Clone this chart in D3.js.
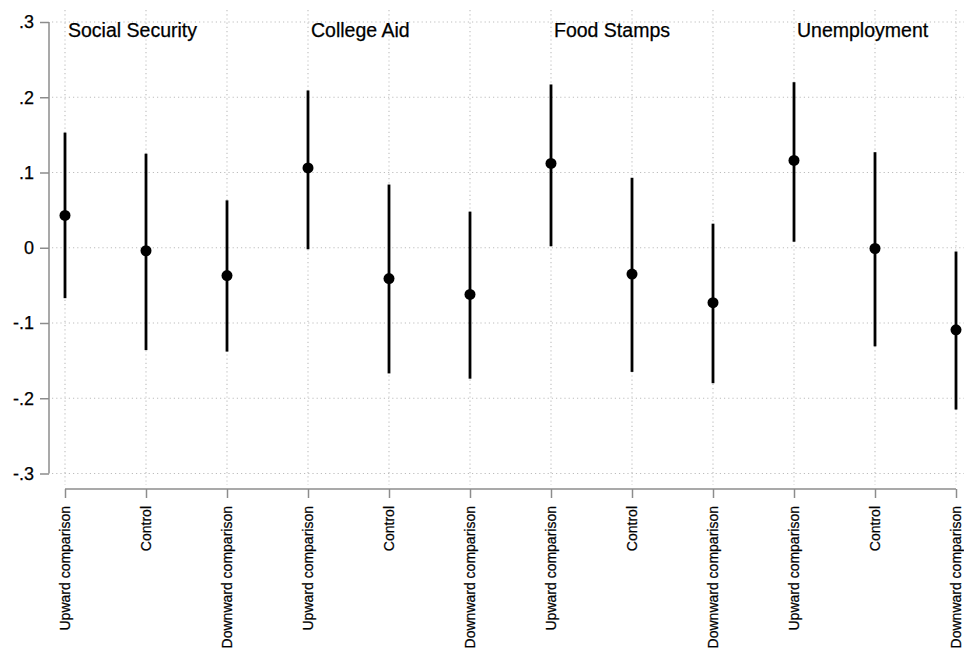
<!DOCTYPE html>
<html>
<head>
<meta charset="utf-8">
<script src="https://cdn.jsdelivr.net/npm/d3@7"></script>
<style>
  html, body { margin: 0; padding: 0; background: #fff; }
  svg { display: block; font-family: "Liberation Sans", Arial, Helvetica, sans-serif; }
  .lbl { stroke: #000; stroke-width: 0.25px; }
</style>
</head>
<body>
<svg id="chart" width="964" height="650"></svg>
<script>
// Policy domains (panels) and treatment conditions within each
const groups = ["Social Security", "College Aid", "Food Stamps", "Unemployment"];
const conditions = ["Upward comparison", "Control", "Downward comparison"];

// Point estimates and confidence bounds, ordered group by group
const estimates = [0.043, -0.004, -0.037, 0.106, -0.041, -0.062, 0.112, -0.035, -0.073, 0.116, -0.001, -0.109];
const lower     = [-0.067, -0.136, -0.138, -0.002, -0.167, -0.174, 0.002, -0.165, -0.180, 0.008, -0.131, -0.215];
const upper     = [0.153, 0.125, 0.063, 0.209, 0.084, 0.048, 0.217, 0.093, 0.032, 0.220, 0.127, -0.005];

const yTicks = [-0.3, -0.2, -0.1, 0, 0.1, 0.2, 0.3];
const yTickLabels = ["-.3", "-.2", "-.1", "0", ".1", ".2", ".3"];

const rows = estimates.map((est, i) => ({
  i,
  group: groups[Math.floor(i / conditions.length)],
  condition: conditions[i % conditions.length],
  est, lo: lower[i], hi: upper[i]
}));

const svg = d3.select("#chart");
const plot = { left: 49, right: 964, top: 10, bottom: 487 };

const x = d3.scalePoint().domain(rows.map(d => d.i)).range([65, 956]).padding(0);
const y = d3.scaleLinear().domain([-0.3, 0.3]).range([473.5, 22]);

const axisColor = "#8c8c8c";
const gridColor = "#bdbdbd";

// Dotted grid
const grid = svg.append("g");
grid.selectAll("line.h").data(yTicks).join("line")
  .attr("x1", plot.left + 3).attr("x2", plot.right)
  .attr("y1", d => y(d)).attr("y2", d => y(d))
  .attr("stroke", gridColor).attr("stroke-width", 1.1)
  .attr("stroke-dasharray", "1.2,3");
grid.selectAll("line.v").data(rows).join("line")
  .attr("x1", d => x(d.i)).attr("x2", d => x(d.i))
  .attr("y1", plot.top).attr("y2", plot.bottom - 2)
  .attr("stroke", gridColor).attr("stroke-width", 1.1)
  .attr("stroke-dasharray", "1.2,3");

// Y axis
const yAxis = d3.axisLeft(y).tickValues(yTicks)
  .tickFormat((d, k) => yTickLabels[k]).tickSize(9).tickPadding(6);
const gy = svg.append("g").attr("transform", `translate(${plot.left},0)`).call(yAxis);
gy.select(".domain").attr("stroke", axisColor).attr("stroke-width", 1.5)
  .attr("d", `M0,${y(0.3)}V${y(-0.3)}`);
gy.selectAll(".tick line").attr("stroke", axisColor).attr("stroke-width", 1.5);
gy.selectAll(".tick text").attr("class", "lbl").attr("fill", "#000").style("font-size", "18px")
  .style("font-family", "'Liberation Sans', Arial, sans-serif");

// X axis with rotated condition labels
const xAxis = d3.axisBottom(x).tickSize(9).tickPadding(0)
  .tickFormat(i => rows[i].condition);
const gx = svg.append("g").attr("transform", `translate(0,489)`).call(xAxis);
gx.select(".domain").attr("stroke", axisColor).attr("stroke-width", 1.5)
  .attr("d", `M${x(0)},0H${x(rows.length - 1)}`);
gx.selectAll(".tick line").attr("stroke", axisColor).attr("stroke-width", 1.5);
gx.selectAll(".tick text")
  .attr("class", "lbl")
  .attr("fill", "#000").style("font-size", "14px")
  .style("font-family", "'Liberation Sans', Arial, sans-serif")
  .attr("text-anchor", "end")
  .attr("transform", "translate(0,17) rotate(-90)")
  .attr("x", 0).attr("y", 0).attr("dy", "0.35em");

// Confidence intervals
svg.append("g").selectAll("line").data(rows).join("line")
  .attr("x1", d => x(d.i)).attr("x2", d => x(d.i))
  .attr("y1", d => y(d.lo)).attr("y2", d => y(d.hi))
  .attr("stroke", "#000").attr("stroke-width", 2.8);

// Point estimates
svg.append("g").selectAll("circle").data(rows).join("circle")
  .attr("cx", d => x(d.i)).attr("cy", d => y(d.est))
  .attr("r", 5.5).attr("fill", "#000");

// Panel titles above each group's first condition
svg.append("g").selectAll("text").data(groups).join("text")
  .attr("class", "lbl")
  .attr("x", (g, k) => x(k * conditions.length) + 3)
  .attr("y", 37)
  .style("font-size", "19.5px")
  .attr("fill", "#000")
  .text(g => g);
</script>
</body>
</html>
